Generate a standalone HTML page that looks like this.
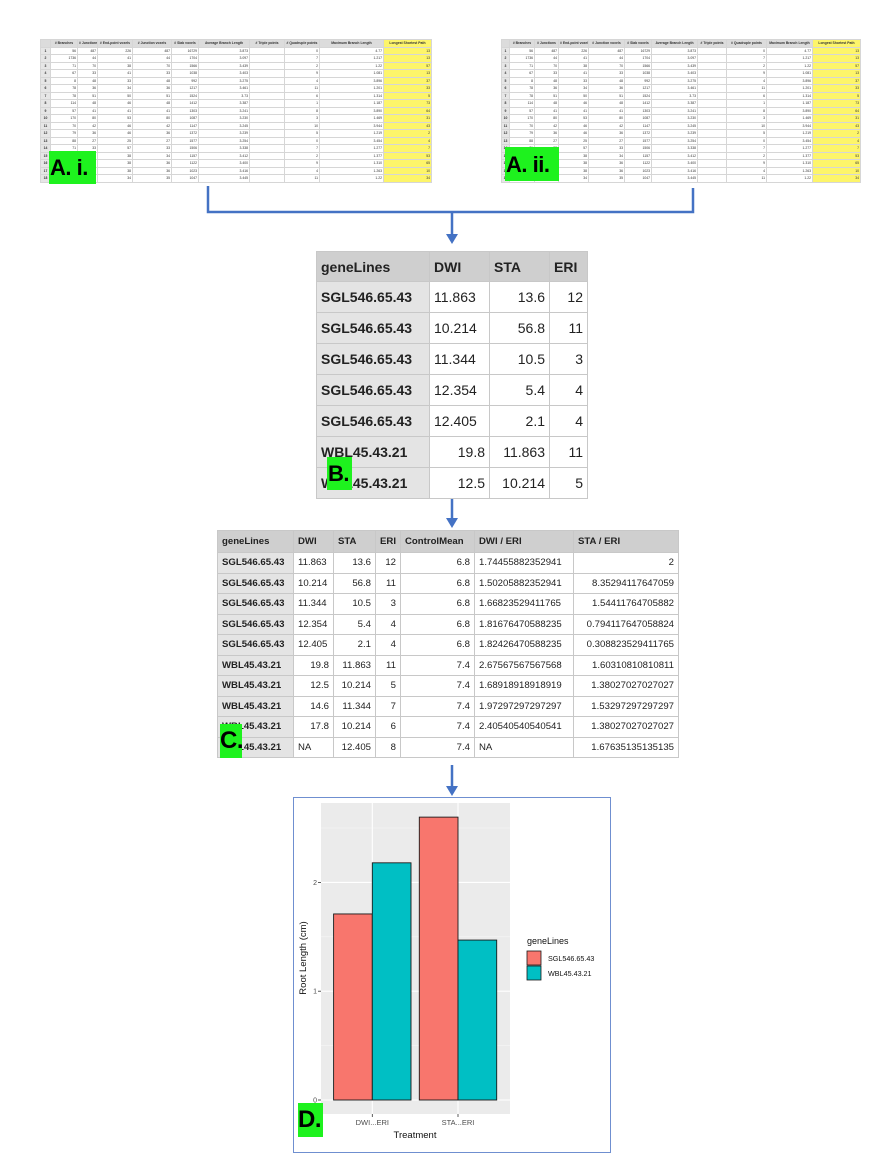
<!DOCTYPE html>
<html><head><meta charset="utf-8">
<style>
*{box-sizing:border-box;margin:0;padding:0}
body{width:895px;height:1163px;background:#fff;position:relative;overflow:hidden;font-family:"Liberation Sans",Arial,sans-serif}
.abs{position:absolute}
.sheet{position:absolute;border-collapse:collapse;font-size:3.4px;color:#333;table-layout:fixed}
.sheet td,.sheet th{border:0.5px solid #d6d6d6;height:7.3px;text-align:right;padding:0 1px;white-space:nowrap;overflow:hidden;line-height:6.5px}
.sheet th{background:#dcdcdc;text-align:center;font-weight:bold;height:6px}
.sheet td.rn{background:#e6e6e6;text-align:center;font-weight:bold}
.sheet .y{background:#fdf56a}
.lbl{position:absolute;background:#1ef21e;color:#000;font-weight:bold;font-family:"Liberation Sans",sans-serif;line-height:1;white-space:nowrap;overflow:hidden;letter-spacing:-0.5px}
table.t{position:absolute;border-collapse:collapse;color:#222;table-layout:fixed}
table.t td,table.t th{border:1px solid #c8c8c8;padding:0 4px;white-space:nowrap;overflow:hidden}
table.t th{background:#cfcfcf;text-align:left;font-weight:bold}
table.t td{text-align:right}
table.t td.g{background:#e4e4e4;text-align:left;font-weight:bold}
table.t td.l{text-align:left}
</style></head><body>

<svg class="abs" style="left:0;top:0" width="895" height="1163">
 <g stroke="#4472c4" stroke-width="2.5" fill="none">
  <path d="M208 186 V212 H693 V188"/>
  <path d="M452 212 V236"/>
  <path d="M452 498 V520"/>
  <path d="M452 765 V788"/>
 </g>
 <g fill="#4472c4">
  <path d="M446 234 L458 234 L452 244 Z"/>
  <path d="M446 518 L458 518 L452 528 Z"/>
  <path d="M446 786 L458 786 L452 796 Z"/>
 </g>
</svg>

<table class="sheet" id="sheetA1" style="left:40px;top:39px;width:371px"></table>
<table class="sheet" id="sheetA2" style="left:501px;top:39px;width:359px"></table>
<div class="lbl" style="left:49px;top:151px;width:47px;height:33px;font-size:22px;padding:6px 0 0 1px">A. i.</div>
<div class="lbl" style="left:505px;top:147px;width:54px;height:34px;font-size:22px;padding:7px 0 0 1px">A. ii.</div>

<table class="t" style="left:316px;top:251px;width:271px;font-size:14px">
 <colgroup><col style="width:113px"><col style="width:60px"><col style="width:60px"><col style="width:38px"></colgroup>
 <tr style="height:30px"><th>geneLines</th><th>DWI</th><th>STA</th><th>ERI</th></tr>
 <tr style="height:31px"><td class="g">SGL546.65.43</td><td class="l">11.863</td><td>13.6</td><td>12</td></tr>
 <tr style="height:31px"><td class="g">SGL546.65.43</td><td class="l">10.214</td><td>56.8</td><td>11</td></tr>
 <tr style="height:31px"><td class="g">SGL546.65.43</td><td class="l">11.344</td><td>10.5</td><td>3</td></tr>
 <tr style="height:31px"><td class="g">SGL546.65.43</td><td class="l">12.354</td><td>5.4</td><td>4</td></tr>
 <tr style="height:31px"><td class="g">SGL546.65.43</td><td class="l">12.405</td><td>2.1</td><td>4</td></tr>
 <tr style="height:31px"><td class="g">WBL45.43.21</td><td>19.8</td><td>11.863</td><td>11</td></tr>
 <tr style="height:31px"><td class="g">WBL45.43.21</td><td>12.5</td><td>10.214</td><td>5</td></tr>
</table>
<div class="lbl" style="left:327px;top:457px;width:25px;height:33px;font-size:22px;padding:6px 0 0 1px">B.</div>

<table class="t" style="left:217px;top:530px;width:461px;font-size:9.6px">
 <colgroup><col style="width:76px"><col style="width:40px"><col style="width:42px"><col style="width:25px"><col style="width:74px"><col style="width:99px"><col style="width:105px"></colgroup>
 <tr style="height:22px"><th>geneLines</th><th>DWI</th><th>STA</th><th>ERI</th><th>ControlMean</th><th>DWI / ERI</th><th>STA / ERI</th></tr>
 <tr style="height:20.5px"><td class="g">SGL546.65.43</td><td class="l">11.863</td><td>13.6</td><td>12</td><td>6.8</td><td class="l">1.74455882352941</td><td>2</td></tr>
 <tr style="height:20.5px"><td class="g">SGL546.65.43</td><td class="l">10.214</td><td>56.8</td><td>11</td><td>6.8</td><td class="l">1.50205882352941</td><td>8.35294117647059</td></tr>
 <tr style="height:20.5px"><td class="g">SGL546.65.43</td><td class="l">11.344</td><td>10.5</td><td>3</td><td>6.8</td><td class="l">1.66823529411765</td><td>1.54411764705882</td></tr>
 <tr style="height:20.5px"><td class="g">SGL546.65.43</td><td class="l">12.354</td><td>5.4</td><td>4</td><td>6.8</td><td class="l">1.81676470588235</td><td>0.794117647058824</td></tr>
 <tr style="height:20.5px"><td class="g">SGL546.65.43</td><td class="l">12.405</td><td>2.1</td><td>4</td><td>6.8</td><td class="l">1.82426470588235</td><td>0.308823529411765</td></tr>
 <tr style="height:20.5px"><td class="g">WBL45.43.21</td><td>19.8</td><td>11.863</td><td>11</td><td>7.4</td><td class="l">2.67567567567568</td><td>1.60310810810811</td></tr>
 <tr style="height:20.5px"><td class="g">WBL45.43.21</td><td>12.5</td><td>10.214</td><td>5</td><td>7.4</td><td class="l">1.68918918918919</td><td>1.38027027027027</td></tr>
 <tr style="height:20.5px"><td class="g">WBL45.43.21</td><td>14.6</td><td>11.344</td><td>7</td><td>7.4</td><td class="l">1.97297297297297</td><td>1.53297297297297</td></tr>
 <tr style="height:20.5px"><td class="g">WBL45.43.21</td><td>17.8</td><td>10.214</td><td>6</td><td>7.4</td><td class="l">2.40540540540541</td><td>1.38027027027027</td></tr>
 <tr style="height:20.5px"><td class="g">WBL45.43.21</td><td class="l">NA</td><td>12.405</td><td>8</td><td>7.4</td><td class="l">NA</td><td>1.67635135135135</td></tr>
</table>
<div class="lbl" style="left:220px;top:724px;width:22px;height:34px;font-size:24px;padding:5px 0 0 0">C.</div>

<div class="abs" style="left:293px;top:797px;width:318px;height:356px;border:1.5px solid #6f8fd0"></div>
<svg id="chart" class="abs" style="left:0;top:0" width="895" height="1163"></svg>
<div class="lbl" style="left:298px;top:1103px;width:25px;height:34px;font-size:24px;padding:5px 0 0 0">D.</div>

<script>
// ---- chart data ----
const categories = ["DWI...ERI", "STA...ERI"];
const seriesNames = ["SGL546.65.43", "WBL45.43.21"];
const sglValues = [1.71, 2.60];
const wblValues = [2.18, 1.47];
const yTicks = [0, 1, 2];
const yMinor = [0.5, 1.5, 2.5];

const NS = "http://www.w3.org/2000/svg";
const svg = document.getElementById("chart");
const px0 = 321, px1 = 510, py0 = 803, py1 = 1114;
const yZero = 1100, yUnit = 108.8;
const yScale = v => yZero - v * yUnit;
const xFirst = 372.3, xStep = 85.7;
const xCenter = i => xFirst + i * xStep;
const barW = 38.7;
function el(tag, attrs, text) {
  const e = document.createElementNS(NS, tag);
  for (const k in attrs) e.setAttribute(k, attrs[k]);
  if (text !== undefined) e.textContent = text;
  svg.appendChild(e);
  return e;
}
const panel = el("rect", {x: px0, y: py0, width: px1 - px0, height: py1 - py0, fill: "#ebebeb"});


yMinor.forEach(v => {
  const g = el("line", {x1: px0, x2: px1, y1: yScale(v), y2: yScale(v), stroke: "#f7f7f7", "stroke-width": 0.6});
  
  
});
yTicks.forEach(v => {
  const y = yScale(v);
  const g = el("line", {x1: px0, x2: px1, y1: y, y2: y, stroke: "#fff", "stroke-width": 1.1});
  
  
  const t = el("line", {x1: px0 - 3, x2: px0, y1: y, y2: y, stroke: "#333", "stroke-width": 0.8});
  
  
  const l = el("text", {x: px0 - 4, y: y + 2.5, "font-size": 7, fill: "#4d4d4d", "text-anchor": "end"}, String(v));
  
  
});
categories.forEach((c, i) => {
  const x = xCenter(i);
  const g = el("line", {x1: x, x2: x, y1: py0, y2: py1, stroke: "#fff", "stroke-width": 1.1});
  
  
  const t = el("line", {x1: x, x2: x, y1: py1, y2: py1 + 3, stroke: "#333", "stroke-width": 0.8});
  
  
  const l = el("text", {x: x, y: py1 + 11, "font-size": 7.5, fill: "#4d4d4d", "text-anchor": "middle"}, c);
  
  
});
const colors = ["#f8766d", "#00bfc4"];
[sglValues, wblValues].forEach((vals, s) => {
  vals.forEach((v, i) => {
    const x = xCenter(i) + (s === 0 ? -barW : 0);
    const b = el("rect", {x: x, y: yScale(v), width: barW, height: yZero - yScale(v), fill: colors[s], stroke: "#1a1a1a", "stroke-width": 0.9});
    
    
  });
});
const xt = el("text", {x: 415, y: 1138, "font-size": 9.5, fill: "#111", "text-anchor": "middle"}, "Treatment");


const yt = el("text", {x: 0, y: 0, "font-size": 9.5, fill: "#111", "text-anchor": "middle", transform: "translate(306,958) rotate(-90)"}, "Root Length (cm)");


const lt = el("text", {x: 527, y: 944, "font-size": 9, fill: "#111"}, "geneLines");


seriesNames.forEach((n, s) => {
  const y = 951 + s * 15;
  const k = el("rect", {x: 527, y: y, width: 14, height: 14, fill: colors[s], stroke: "#1a1a1a", "stroke-width": 0.8});
  
  
  const t = el("text", {x: 548, y: y + 10, "font-size": 7.2, fill: "#111"}, n);
  
  
});

// ---- small spreadsheets ----
const headers = ["","# Branches","# Junctions","# End-point voxels","# Junction voxels","# Slab voxels","Average Branch Length","# Triple points","# Quadruple points","Maximum Branch Length","Longest Shortest Path"];
const colA1 = [10,27,20,35,39,27,51,35,35,64,48];
const colA2 = [8,25,24,30,36,27,46,29,40,46,48];
const c1 = ["56","1736","71","67","8","78","78","114","57","170","70","79","88","71","59","63","77","81"];
const c2 = ["487","44","70","33","48","36","51","48","41","80","42","36","27","33","34","36","36","35"];
const c3 = ["226","41","38","41","33","34","50","46","41","53","46","46","25","57","38","38","38","34"];
const c5 = ["16729","1704","1566","1038","992","1217","1524","1412","1303","1087","1147","1372","1577","1506","1157","1122","1023","1047"];
const c6 = ["3.873","3.097","3.439","3.403","3.275","3.461","3.73","3.387","3.241","3.230","3.245","3.239","3.254","3.338","3.412","3.400","3.416","3.445"];
const c9 = ["4.77","1.217","1.22","1.081","3.896","1.201","1.314","1.187","3.890","1.469","3.944","1.219","3.454","1.277","1.377","1.310","1.263","1.22"];
const c10 = ["13","13","57","13","37","33","5","73","64","31","43","2","4","7","53","65","10","34"];
function buildSheet(id, widths) {
  const tb = document.getElementById(id);
  const cg = document.createElement("colgroup");
  widths.forEach(w => { const c = document.createElement("col"); c.style.width = w + "px"; cg.appendChild(c); });
  tb.appendChild(cg);
  const hr = document.createElement("tr");
  headers.forEach((h, j) => { const th = document.createElement("th"); th.textContent = h; if (j === 10) th.className = "y"; hr.appendChild(th); });
  tb.appendChild(hr);
  for (let i = 0; i < 18; i++) {
    const tr = document.createElement("tr");
    const vals = [String(i + 1), c1[i], c2[i], c3[i], c2[i], c5[i], c6[i], "", String((i * 7) % 12), c9[i], c10[i]];
    vals.forEach((v, j) => {
      const td = document.createElement("td");
      td.textContent = v;
      if (j === 0) td.className = "rn";
      if (j === 10) td.className = "y";
      tr.appendChild(td);
    });
    tb.appendChild(tr);
  }
}
buildSheet("sheetA1", colA1);
buildSheet("sheetA2", colA2);
</script>
</body></html>
